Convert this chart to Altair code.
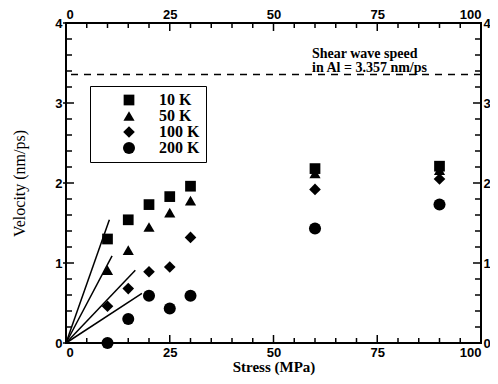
import altair as alt
import pandas as pd

# ---- data ----
stress = [10, 15, 20, 25, 30, 60, 90]
v_10K = [1.30, 1.54, 1.73, 1.83, 1.96, 2.18, 2.21]
v_50K = [0.91, 1.16, 1.45, 1.63, 1.78, 2.12, 2.16]
v_100K = [0.46, 0.68, 0.89, 0.95, 1.32, 1.92, 2.05]
v_200K = [0.0, 0.30, 0.59, 0.43, 0.59, 1.43, 1.73]
series = ["10 K", "50 K", "100 K", "200 K"]
shapes = ["square", "triangle-up", "diamond", "circle"]
sizes = [115, 145, 155, 210]

fit_end_x = [10.45, 11.1, 16.7, 18.3]
fit_end_y = [1.54, 1.09, 0.91, 0.62]

shear_speed = [3.357]
annotation = ["Shear wave speed\nin Al = 3.357 nm/ps"]

x_major = [0, 25, 50, 75, 100]
x_minor = [5, 10, 15, 20, 30, 35, 40, 45, 55, 60, 65, 70, 80, 85, 90, 95]
y_major = [0, 1, 2, 3, 4]
y_minor = [0.2, 0.4, 0.6, 0.8, 1.2, 1.4, 1.6, 1.8, 2.2, 2.4, 2.6, 2.8,
           3.2, 3.4, 3.6, 3.8]

# ---- tables ----
vals = [v_10K, v_50K, v_100K, v_200K]
rows = []
for s, v in zip(series, vals):
    for x, y in zip(stress, v):
        rows.append({"stress": x, "v": y, "T": s})
pts = pd.DataFrame(rows)
fits = pd.DataFrame({"x0": [0] * len(fit_end_x), "y0": [0] * len(fit_end_y),
                     "x1": fit_end_x, "y1": fit_end_y})

W, H = 415, 320
SANS = "Liberation Sans"
SERIF = "Liberation Serif"

xs = alt.Scale(domain=[0, 100], nice=False, zero=False)
ys = alt.Scale(domain=[0, 4], nice=False, zero=False)

lab = dict(labelFont=SANS, labelFontWeight="bold", labelFontSize=13,
           labelColor="black", ticks=False, tickSize=0, domain=False,
           grid=False)

x_bottom = alt.Axis(values=x_major, orient="bottom", title="Stress (MPa)",
                    labelPadding=3, titleFont=SERIF, titleFontSize=15,
                    titleFontWeight="bold", titleColor="black",
                    titlePadding=0, labelOverlap=False, **lab)
x_top = alt.Axis(values=x_major, orient="top", title=None, labelPadding=2,
                 labelOverlap=False, **lab)
y_left = alt.Axis(values=y_major, orient="left", title="Velocity (nm/ps)",
                  labelPadding=4, titleFont=SERIF, titleFontSize=16,
                  titleFontWeight="normal", titleColor="black",
                  titlePadding=27, labelOverlap=False, **lab)
y_right = alt.Axis(values=y_major, orient="right", title=None,
                   labelPadding=2, labelOverlap=False, **lab)

leg = alt.Legend(title=None, orient="none", legendX=24, legendY=63,
                 strokeColor="black", fillColor="white", padding=6,
                 symbolOffset=25, labelOffset=22, rowPadding=0,
                 labelFont=SERIF, labelFontSize=16, labelFontWeight="bold",
                 labelColor="black", symbolFillColor="black",
                 symbolStrokeColor="black", symbolStrokeWidth=0)

points = alt.Chart(pts).mark_point(filled=True, opacity=1, color="black").encode(
    x=alt.X("stress:Q", scale=xs, axis=x_bottom),
    y=alt.Y("v:Q", scale=ys, axis=y_left),
    shape=alt.Shape("T:N", scale=alt.Scale(domain=series, range=shapes), legend=leg),
    size=alt.Size("T:N", scale=alt.Scale(domain=series, range=sizes), legend=leg),
)

lines = alt.Chart(fits).mark_rule(color="black", strokeWidth=1.5).encode(
    x=alt.X("x0:Q", scale=xs, axis=None),
    y=alt.Y("y0:Q", scale=ys, axis=None),
    x2="x1:Q", y2="y1:Q",
)

dashed = alt.Chart(pd.DataFrame({"v": shear_speed})).mark_rule(
    color="black", strokeWidth=1.5, strokeDash=[7, 6]
).encode(y=alt.Y("v:Q", scale=ys, axis=None))

note = alt.Chart(pd.DataFrame({"t": annotation})).mark_text(
    align="left", baseline="alphabetic", font=SERIF, fontSize=14,
    fontWeight="bold", lineBreak="\n", lineHeight=14, color="black"
).encode(text="t:N", x=alt.value(246), y=alt.value(35))

xmaj = pd.DataFrame({"x": x_major})
xmin = pd.DataFrame({"x": x_minor})
ymaj = pd.DataFrame({"y": y_major})
ymin = pd.DataFrame({"y": y_minor})
tk = dict(color="black", strokeWidth=1.5)

t_bot_maj = alt.Chart(xmaj).mark_rule(**tk).encode(
    x=alt.X("x:Q", scale=xs, axis=x_top), y=alt.value(H), y2=alt.value(H - 8))
t_top_maj = alt.Chart(xmaj).mark_rule(**tk).encode(
    x=alt.X("x:Q", scale=xs, axis=None), y=alt.value(0), y2=alt.value(8))
t_bot_min = alt.Chart(xmin).mark_rule(**tk).encode(
    x=alt.X("x:Q", scale=xs, axis=None), y=alt.value(H), y2=alt.value(H - 5))
t_top_min = alt.Chart(xmin).mark_rule(**tk).encode(
    x=alt.X("x:Q", scale=xs, axis=None), y=alt.value(0), y2=alt.value(5))
t_left_maj = alt.Chart(ymaj).mark_rule(**tk).encode(
    y=alt.Y("y:Q", scale=ys, axis=y_right), x=alt.value(-3), x2=alt.value(8))
t_right_maj = alt.Chart(ymaj).mark_rule(**tk).encode(
    y=alt.Y("y:Q", scale=ys, axis=None), x=alt.value(W), x2=alt.value(W - 8))
t_left_min = alt.Chart(ymin).mark_rule(**tk).encode(
    y=alt.Y("y:Q", scale=ys, axis=None), x=alt.value(0), x2=alt.value(6))
t_right_min = alt.Chart(ymin).mark_rule(**tk).encode(
    y=alt.Y("y:Q", scale=ys, axis=None), x=alt.value(W), x2=alt.value(W - 6))

chart = alt.layer(
    dashed, lines, t_bot_maj, t_top_maj, t_bot_min, t_top_min,
    t_left_maj, t_right_maj, t_left_min, t_right_min, note, points
).resolve_axis(x="independent", y="independent").properties(
    width=W, height=H,
    autosize=alt.AutoSizeParams(type="none"),
    padding={"left": 58, "top": 15, "right": 9, "bottom": 33},
    background="white",
).configure_view(stroke="black", strokeWidth=2)

chart.save("out.html", embed_options={"renderer": "svg", "actions": False})
